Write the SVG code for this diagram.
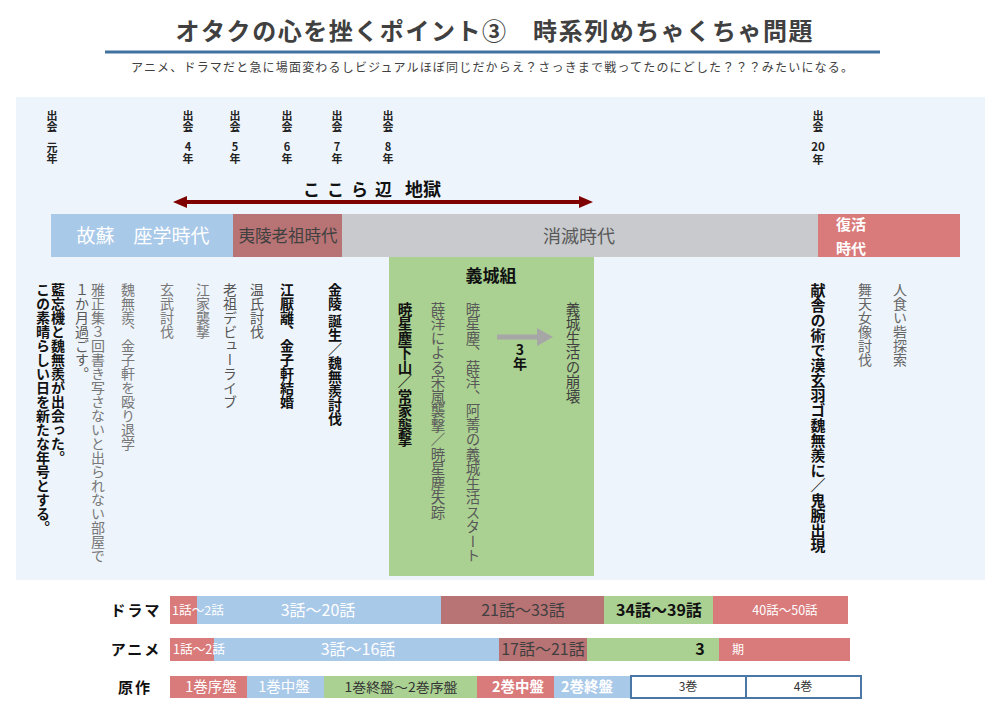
<svg xmlns="http://www.w3.org/2000/svg" width="1006" height="715" viewBox="0 0 1006 715">
<style>
text{font-family:"Noto Sans CJK JP","Noto Sans",sans-serif}
.b{font-weight:bold}
.v{writing-mode:vertical-rl}
.vu{writing-mode:vertical-rl;text-orientation:upright;font-size:11px;font-weight:bold;fill:#222}
.c{text-anchor:middle}
.blue{fill:#A9C9E9}
.brown{fill:#B87374}
.red{fill:#D97A7B}
.green{fill:#ABD192}
.gray{fill:#C8CACD}
.lbl{font-size:15px;font-weight:bold;fill:#111;text-anchor:middle}
</style>
<defs>
<marker id="ah" markerUnits="userSpaceOnUse" markerWidth="14" markerHeight="12" refX="1" refY="6" orient="auto-start-reverse">
<path d="M0,0 L14,6 L0,12 z" fill="#7F0000"/>
</marker>
<marker id="gh" markerUnits="userSpaceOnUse" markerWidth="16" markerHeight="18" refX="1" refY="9" orient="auto">
<path d="M0,0 L16,9 L0,18 z" fill="#A6A6A6"/>
</marker>
</defs>
<rect width="1006" height="715" fill="#fff"/>
<g id="title">
<text x="494" y="40" class="b c" font-size="24" fill="#404040" textLength="637" lengthAdjust="spacing">オタクの心を挫くポイント③　時系列めちゃくちゃ問題</text>
<line x1="105" y1="52" x2="880" y2="52" stroke="#41729F" stroke-width="3"/>
<text x="131" y="72" font-size="12" fill="#404040" textLength="722" lengthAdjust="spacing">アニメ、ドラマだと急に場面変わるしビジュアルほぼ同じだからえ？さっきまで戦ってたのにどした？？？みたいになる。</text>
</g>
<rect id="panel" x="16" y="97" width="969" height="483" fill="#EEF4FB"/>
<g id="years">
<text x="52" y="110" class="vu">出会</text><text x="52" y="142" class="vu">元年</text>
<text x="188" y="110" class="vu">出会</text><text x="188" y="141" class="vu" letter-spacing="1">4年</text>
<text x="235" y="110" class="vu">出会</text><text x="235" y="141" class="vu" letter-spacing="1">5年</text>
<text x="287" y="110" class="vu">出会</text><text x="287" y="141" class="vu" letter-spacing="1">6年</text>
<text x="337" y="110" class="vu">出会</text><text x="337" y="141" class="vu" letter-spacing="1">7年</text>
<text x="388" y="110" class="vu">出会</text><text x="388" y="141" class="vu" letter-spacing="1">8年</text>
<text x="818" y="110" class="vu">出会</text>
<text x="818" y="151" class="c b" font-size="11.5" fill="#222">20</text>
<text x="818" y="154" class="vu">年</text>
</g>
<g id="hell-label">
<text x="303" y="196" class="b" font-size="17" fill="#111" letter-spacing="7">ここら辺</text>
<text x="405" y="196" class="b" font-size="18" fill="#111">地獄</text>
</g>
<g id="eras">
<rect x="51" y="214" width="182" height="43" class="blue"/>
<text x="143" y="243" class="c" font-size="19" fill="#fff">故蘇　座学時代</text>
<rect x="233" y="214" width="109" height="43" class="brown"/>
<text x="288" y="242" class="c" font-size="16.5" fill="#404040">夷陵老祖時代</text>
<rect x="342" y="214" width="476" height="43" class="gray"/>
<text x="579" y="243" class="c" font-size="18" fill="#595959">消滅時代</text>
<rect x="818" y="214" width="142" height="43" class="red"/>
<text x="836" y="230" class="b" font-size="15" fill="#fff">復活</text>
<text x="836" y="254" class="b" font-size="15" fill="#fff">時代</text>
</g>
<g id="yicheng">
<rect x="389" y="257" width="205" height="319" class="green"/>
<text x="491" y="282" class="b c" font-size="17" fill="#111">義城組</text>
<text x="405" y="302" class="v b" font-size="14.5" fill="#111">暁星塵下山／常家襲撃</text>
<text x="438" y="302" class="v" font-size="14.5" fill="#595959">薛洋による宋嵐襲撃／暁星塵失踪</text>
<text x="473" y="302" class="v" font-size="14.5" fill="#595959">暁星塵、薛洋、阿菁の義城生活スタート</text>
<text x="520" y="343" class="vu" font-size="14" style="font-size:14px;fill:#111">3年</text>
<text x="573" y="302" class="v" font-size="14.5" fill="#404040">義城生活の崩壊</text>
</g>
<g id="events-left">
<text x="335" y="283" class="v b" font-size="14" fill="#111">金陵 誕生／魏無羨討伐</text>
<text x="287" y="283" class="v b" font-size="14" fill="#111">江厭離、金子軒結婚</text>
<text x="257" y="283" class="v" font-size="14" fill="#555">温氏討伐</text>
<text x="230" y="283" class="v" font-size="14" fill="#555">老祖デビューライブ</text>
<text x="203" y="283" class="v" font-size="14" fill="#777">江家襲撃</text>
<text x="167" y="283" class="v" font-size="14" fill="#777">玄武討伐</text>
<text x="128" y="283" class="v" font-size="14" fill="#777">魏無羨、金子軒を殴り退学</text>
<text x="98" y="283" class="v" font-size="14" fill="#777">雅正集３回書き写さないと出られない部屋で</text>
<text x="82" y="283" class="v" font-size="14" fill="#595959">１か月過ごす。</text>
<text x="58" y="283" class="v b" font-size="14" fill="#111">藍忘機と魏無羨が出会った。</text>
<text x="43" y="283" class="v b" font-size="14" fill="#111">この素晴らしい日を新たな年号とする。</text>
</g>
<g id="events-right">
<text x="818" y="283" class="v b" font-size="15" fill="#111">献舎の術で漠玄羽ゴ魏無羨に／鬼腕出現</text>
<text x="865" y="283" class="v" font-size="14" fill="#666">舞天女像討伐</text>
<text x="900" y="283" class="v" font-size="14" fill="#666">人食い砦探索</text>
</g>
<g id="connectors">
<line x1="186" y1="202" x2="580" y2="202" stroke="#7F0000" stroke-width="4" marker-start="url(#ah)" marker-end="url(#ah)"/>
<line x1="497" y1="337" x2="538" y2="337" stroke="#A6A6A6" stroke-width="5" marker-end="url(#gh)"/>
</g>
<g id="drama">
<text x="136" y="616" class="lbl" letter-spacing="2">ドラマ</text>
<rect x="170" y="596" width="27" height="28" class="red"/>
<rect x="197" y="596" width="244" height="28" class="blue"/>
<rect x="441" y="596" width="163" height="28" class="brown"/>
<rect x="604" y="596" width="109" height="28" class="green"/>
<rect x="713" y="596" width="135" height="28" class="red"/>
<text x="172" y="615" font-size="12" fill="#fff" textLength="52" lengthAdjust="spacingAndGlyphs">1話～2話</text>
<text x="318" y="616" class="c" font-size="16" fill="#fff">3話～20話</text>
<text x="523" y="616" class="c" font-size="16" fill="#404040">21話～33話</text>
<text x="659" y="616" class="c b" font-size="16" fill="#111">34話～39話</text>
<text x="785" y="615" class="c" font-size="12.5" fill="#fff">40話～50話</text>
</g>
<g id="anime">
<text x="136" y="655" class="lbl" letter-spacing="2">アニメ</text>
<rect x="170" y="638" width="44" height="23" class="red"/>
<rect x="214" y="638" width="285" height="23" class="blue"/>
<rect x="499" y="638" width="88" height="23" class="brown"/>
<rect x="587" y="638" width="132" height="23" class="green"/>
<rect x="719" y="638" width="131" height="23" class="red"/>
<text x="173" y="654" font-size="12.5" fill="#fff" textLength="52" lengthAdjust="spacingAndGlyphs">1話～2話</text>
<text x="358" y="655" class="c" font-size="16" fill="#fff">3話～16話</text>
<text x="543" y="655" class="c" font-size="16" fill="#404040">17話～21話</text>
<text x="700" y="655" class="c b" font-size="16" fill="#111">3</text>
<text x="738" y="654" class="c" font-size="12" fill="#fff">期</text>
</g>
<g id="original">
<text x="135" y="693" class="lbl" letter-spacing="2">原作</text>
<rect x="170" y="676" width="77" height="22" class="red"/>
<rect x="247" y="676" width="77" height="22" class="blue"/>
<rect x="324" y="676" width="153" height="22" class="green"/>
<rect x="477" y="676" width="77" height="22" class="red"/>
<rect x="554" y="676" width="76" height="22" class="blue"/>
<rect x="631" y="676" width="115" height="22" fill="#fff" stroke="#4A77A5" stroke-width="2"/>
<rect x="746" y="676" width="115" height="22" fill="#fff" stroke="#4A77A5" stroke-width="2"/>
<text x="211" y="692" class="c" font-size="14.5" fill="#fff">1巻序盤</text>
<text x="284" y="692" class="c" font-size="14.5" fill="#fff">1巻中盤</text>
<text x="401" y="692" class="c" font-size="13" fill="#333" textLength="113" lengthAdjust="spacingAndGlyphs">1巻終盤～2巻序盤</text>
<text x="518" y="692" class="c b" font-size="14.5" fill="#fff">2巻中盤</text>
<text x="587" y="692" class="c b" font-size="14.5" fill="#fff">2巻終盤</text>
<text x="688" y="691" class="c" font-size="12" fill="#333">3巻</text>
<text x="803" y="691" class="c" font-size="12" fill="#333">4巻</text>
</g>
</svg>
